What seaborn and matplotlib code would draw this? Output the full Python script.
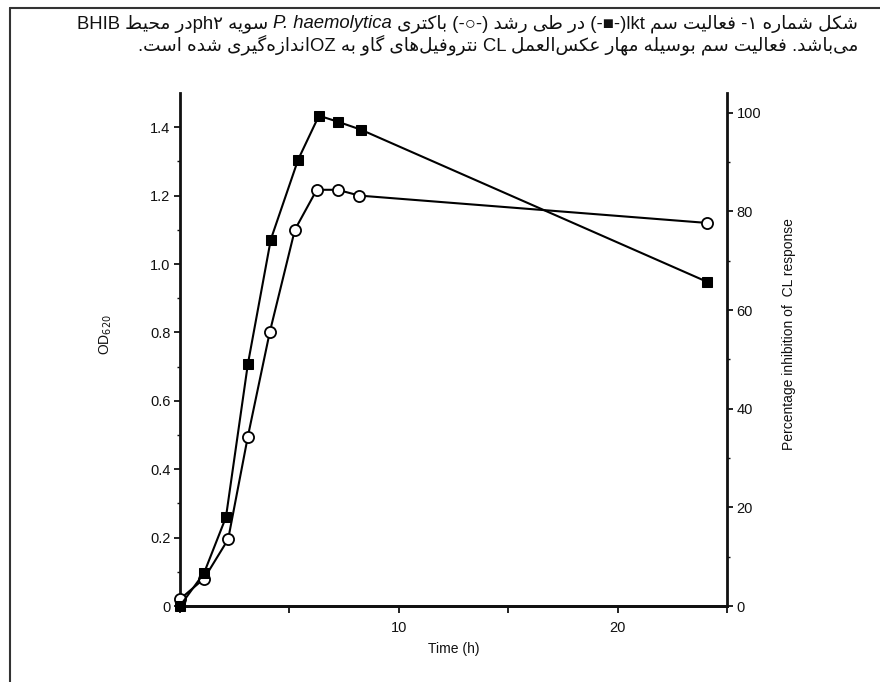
import matplotlib
matplotlib.use("Agg")
import matplotlib.pyplot as plt
import seaborn as sns
from matplotlib.lines import Line2D

sns.set_style("ticks")
plt.rcParams["font.family"] = ["Liberation Sans", "DejaVu Sans"]

# growth of P. haemolytica, OD620 (open circles, left axis)
time_od = [0, 1.1, 2.2, 3.1, 4.1, 5.25, 6.25, 7.2, 8.2, 24.1]
od620 = [0.02, 0.08, 0.195, 0.495, 0.80, 1.10, 1.217, 1.217, 1.20, 1.12]

# lkt toxin activity, % inhibition of CL response (filled squares, right axis)
time_lkt = [0, 1.1, 2.1, 3.1, 4.15, 5.4, 6.35, 7.2, 8.25, 24.1]
lkt_inhib = [0, 6.7, 18.0, 49.0, 74.3, 90.5, 99.4, 98.2, 96.6, 65.7]

x_ticks = [0, 5, 10, 15, 20, 25]
x_labels = ["", "", "10", "", "20", ""]
od_ticks = [0, 0.2, 0.4, 0.6, 0.8, 1.0, 1.2, 1.4]
od_labels = ["0", "0.2", "0.4", "0.6", "0.8", "1.0", "1.2", "1.4"]
pct_ticks = [0, 20, 40, 60, 80, 100]

caption_right = "شکل شماره ۱- فعالیت سم lkt(-■-) در طی رشد (-○-) باکتری "
caption_italic = "P. haemolytica"
caption_left = " سویه ph۲در محیط BHIB"
caption_line2 = "می‌باشد. فعالیت سم بوسیله مهار عکس‌العمل CL نتروفیل‌های گاو به OZاندازه‌گیری شده است."

#%%
# matplotlib has no arabic shaping / bidi, so do a small version here
FORMS = {  # isolated, final, initial, medial
    "ا": ("\uFE8D", "\uFE8E", None, None),
    "ب": ("\uFE8F", "\uFE90", "\uFE91", "\uFE92"),
    "ت": ("\uFE95", "\uFE96", "\uFE97", "\uFE98"),
    "ح": ("\uFEA1", "\uFEA2", "\uFEA3", "\uFEA4"),
    "د": ("\uFEA9", "\uFEAA", None, None),
    "ر": ("\uFEAD", "\uFEAE", None, None),
    "ز": ("\uFEAF", "\uFEB0", None, None),
    "س": ("\uFEB1", "\uFEB2", "\uFEB3", "\uFEB4"),
    "ش": ("\uFEB5", "\uFEB6", "\uFEB7", "\uFEB8"),
    "ط": ("\uFEC1", "\uFEC2", "\uFEC3", "\uFEC4"),
    "ع": ("\uFEC9", "\uFECA", "\uFECB", "\uFECC"),
    "ف": ("\uFED1", "\uFED2", "\uFED3", "\uFED4"),
    "ل": ("\uFEDD", "\uFEDE", "\uFEDF", "\uFEE0"),
    "م": ("\uFEE1", "\uFEE2", "\uFEE3", "\uFEE4"),
    "ن": ("\uFEE5", "\uFEE6", "\uFEE7", "\uFEE8"),
    "ه": ("\uFEE9", "\uFEEA", "\uFEEB", "\uFEEC"),
    "و": ("\uFEED", "\uFEEE", None, None),
    "ی": ("\uFBFC", "\uFBFD", "\uFBFE", "\uFBFF"),
    "ک": ("\uFB8E", "\uFB8F", "\uFB90", "\uFB91"),
    "گ": ("\uFB92", "\uFB93", "\uFB94", "\uFB95"),
}
MIRROR = {"(": ")", ")": "("}


def shape(s):
    dual = lambda c: c in FORMS and FORMS[c][2] is not None
    out = []
    for i, c in enumerate(s):
        if c not in FORMS:
            out.append(c)
            continue
        prev = s[i - 1] if i > 0 else ""
        nxt = s[i + 1] if i + 1 < len(s) else ""
        jp = dual(prev)
        jn = dual(c) and nxt in FORMS
        iso, fin, ini, med = FORMS[c]
        out.append(med if jp and jn else fin if jp else ini if jn else iso)
    return "".join(out).replace("\u200c", "")


def btype(c):
    o = ord(c)
    if c.isdigit():
        return "EN"
    if 0x0600 <= o <= 0x06FF or 0xFB50 <= o <= 0xFEFF:
        return "R"
    if c.isalpha():
        return "L"
    return "N"


def visual(s):
    s = shape(s)
    n = len(s)
    types = [btype(c) for c in s]
    last = "R"
    for i, t in enumerate(types):
        if t in ("L", "R"):
            last = t
        elif t == "EN" and last == "L":
            types[i] = "L"
    strong = ["R" if t in ("R", "EN") else t for t in types]
    res = list(strong)
    i = 0
    while i < n:
        if strong[i] != "N":
            i += 1
            continue
        j = i
        while j < n and strong[j] == "N":
            j += 1
        before = strong[i - 1] if i > 0 else "R"
        after = strong[j] if j < n else "R"
        for k in range(i, j):
            res[k] = before if before == after else "R"
        i = j
    levels = [1 if (res[k] == "R" and types[k] != "EN") else 2 for k in range(n)]
    chars = [MIRROR.get(c, c) if lv == 1 else c for c, lv in zip(s, levels)]
    out = []
    i = 0
    while i < n:
        j = i
        while j < n and levels[j] == levels[i]:
            j += 1
        run = chars[i:j]
        out.extend(run[::-1] if levels[i] == 2 else run)
        i = j
    return "".join(out[::-1])


#%%
W, H = 880, 682
fig = plt.figure(figsize=(W / 100, H / 100), dpi=100)
fig.patch.set_facecolor("white")
ax = fig.add_axes([180 / W, 1 - 606 / H, (727 - 180) / W, (606 - 93) / H])
ax2 = ax.twinx()

sns.lineplot(x=time_lkt, y=lkt_inhib, ax=ax2, color="black", linewidth=1.5,
             marker="s", markersize=6.5, markerfacecolor="black",
             markeredgecolor="black", zorder=3, clip_on=False)
sns.lineplot(x=time_od, y=od620, ax=ax, color="black", linewidth=1.5,
             marker="o", markersize=8, markerfacecolor="white",
             markeredgecolor="black", markeredgewidth=1.3, zorder=4,
             clip_on=False)

ax.set_xlim(0, 25)
ax.set_ylim(0, 1.5)
ax2.set_ylim(0, 104)
ax.set_xticks(x_ticks, x_labels)
ax.set_yticks(od_ticks, od_labels)
ax.set_yticks([0.1, 0.3, 0.5, 0.7, 0.9, 1.1, 1.3], minor=True)
ax2.set_yticks(pct_ticks)
ax2.set_yticks([10, 30, 50, 70, 90], minor=True)

for a in (ax, ax2):
    a.spines["top"].set_visible(False)
    for sp in a.spines.values():
        sp.set_linewidth(2.0)
        sp.set_color("#111111")
    a.tick_params(which="major", length=4, width=1.3, labelsize=10.5,
                  colors="#111111", pad=3)
    a.tick_params(which="minor", length=2.5, width=1.0, colors="#111111")
ax2.spines["left"].set_visible(False)
ax.spines["right"].set_visible(False)
ax.tick_params(axis="x", length=5, pad=6)

ax.set_xlabel("Time (h)", fontsize=10, color="#111111", labelpad=5)
ax.set_ylabel("OD$_{620}$", fontsize=10, color="#111111")
ax.yaxis.set_label_coords(-0.12, 0.53)
ax2.set_ylabel("Percentage inhibition of  CL response", fontsize=10,
               color="#111111")
ax2.yaxis.set_label_coords(1.10, 0.53)

# frame lines at top and left of the figure
fig.add_artist(Line2D([10 / W, 1], [1 - 8 / H, 1 - 8 / H], color="#333333", lw=1.5))
fig.add_artist(Line2D([10 / W, 10 / W], [0, 1 - 8 / H], color="#333333", lw=1.5))

# caption: right aligned, three pieces on line 1 so the species name is italic
cap_kw = dict(fontsize=13.3, color="#111111", va="baseline", ha="right",
              family=["Liberation Sans", "DejaVu Sans"])
r = fig.canvas.get_renderer()
x_right, y1, y2 = 858, 28, 50
t = fig.text(x_right / W, 1 - y1 / H, visual(caption_right), **cap_kw)
x_px = t.get_window_extent(r).x0
t = fig.text(x_px / W, 1 - y1 / H, caption_italic, style="italic", **cap_kw)
x_px = t.get_window_extent(r).x0
fig.text(x_px / W, 1 - y1 / H, visual(caption_left), **cap_kw)
fig.text(x_right / W, 1 - y2 / H, visual(caption_line2), **cap_kw)

fig.savefig("out.png", dpi=100, facecolor="white")
